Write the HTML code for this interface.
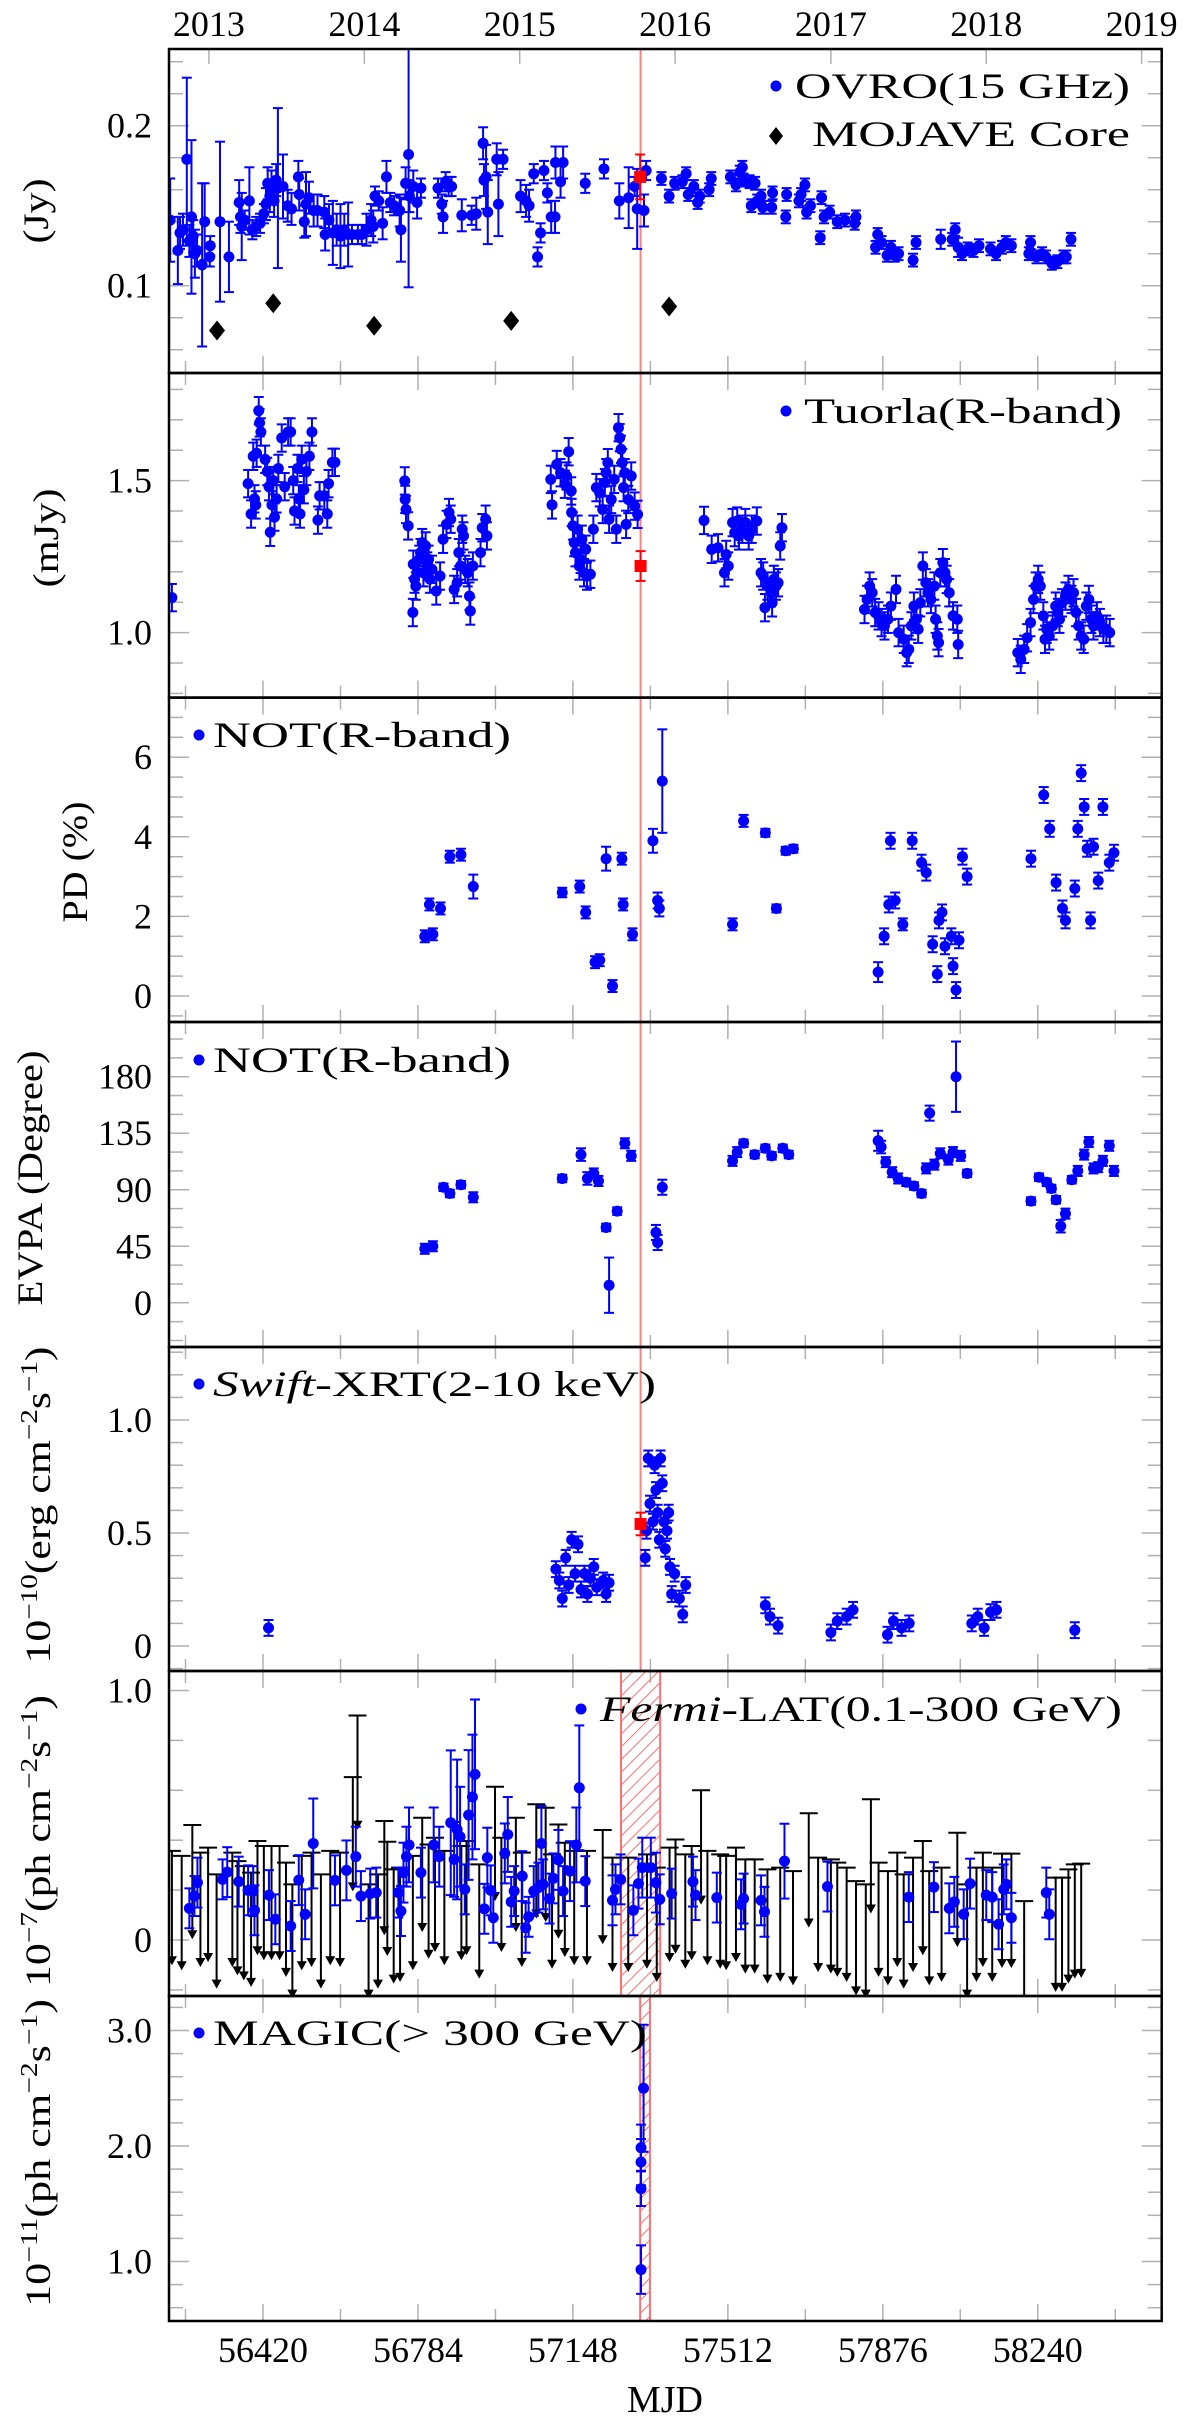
<!DOCTYPE html>
<html><head><meta charset="utf-8"><title>Multiwavelength light curve</title>
<style>
html,body{margin:0;padding:0;background:#fff;}
svg{display:block;font-family:"Liberation Serif",serif;}
</style></head>
<body>
<svg id="chart" xmlns="http://www.w3.org/2000/svg" width="1200" height="2421" viewBox="0 0 1200 2421">
<defs>
<pattern id="hatch" patternUnits="userSpaceOnUse" width="9" height="9" patternTransform="rotate(45)">
<line x1="0" y1="0" x2="0" y2="9" stroke="#ff7070" stroke-width="2"/>
</pattern>
<clipPath id="c1"><rect x="169" y="49" width="993" height="324"/></clipPath>
<clipPath id="c2"><rect x="169" y="373" width="993" height="325"/></clipPath>
<clipPath id="c3"><rect x="169" y="698" width="993" height="324"/></clipPath>
<clipPath id="c4"><rect x="169" y="1022" width="993" height="325"/></clipPath>
<clipPath id="c5"><rect x="169" y="1347" width="993" height="324"/></clipPath>
<clipPath id="c6"><rect x="169" y="1671" width="993" height="325"/></clipPath>
<clipPath id="c7"><rect x="169" y="1996" width="993" height="325"/></clipPath>
</defs>
</svg>
<script>
// ---------- DATA ----------
const xMajorTicks = [56420, 56784, 57148, 57512, 57876, 58240];
const xMinorTicks = [56238, 56602, 56966, 57330, 57694, 58058, 58422];
const yearLabels = ["2013","2014","2015","2016","2017","2018","2019"];
const yearMjd = [56293, 56658, 57023, 57388, 57754, 58119, 58484];
const flareMjd = 57307;
const fermiBand = [57261, 57353];
const magicBand = [57306, 57329];

const ovroData = [[56202,0.141,0.026],[56220,0.122,0.021],[56225,0.133,0.01],[56232,0.135,0.01],[56241,0.179,0.051],[56247,0.128,0.01],[56252,0.143,0.048],[56256,0.131,0.01],[56260,0.120,0.015],[56265,0.122,0.01],[56277,0.113,0.051],[56283,0.140,0.024],[56295,0.118,0.006],[56296,0.125,0.006],[56319,0.140,0.050],[56340,0.118,0.022],[56364,0.152,0.014],[56367,0.143,0.01],[56370,0.137,0.021],[56377,0.141,0.006],[56388,0.153,0.021],[56395,0.135,0.006],[56404,0.137,0.006],[56413,0.139,0.006],[56422,0.145,0.006],[56427,0.151,0.01],[56431,0.164,0.01],[56436,0.156,0.01],[56440,0.162,0.01],[56446,0.153,0.01],[56451,0.166,0.01],[56455,0.161,0.05],[56467,0.162,0.02],[56478,0.150,0.01],[56487,0.148,0.01],[56503,0.168,0.01],[56505,0.157,0.01],[56517,0.140,0.01],[56521,0.151,0.02],[56528,0.155,0.01],[56539,0.147,0.01],[56548,0.147,0.01],[56564,0.146,0.01],[56566,0.132,0.01],[56575,0.141,0.01],[56584,0.133,0.02],[56593,0.135,0.01],[56602,0.131,0.02],[56611,0.135,0.01],[56620,0.132,0.02],[56629,0.132,0.006],[56643,0.132,0.006],[56652,0.132,0.006],[56663,0.135,0.01],[56674,0.141,0.01],[56679,0.137,0.01],[56683,0.156,0.006],[56692,0.153,0.006],[56701,0.139,0.01],[56710,0.168,0.01],[56719,0.152,0.006],[56728,0.150,0.006],[56741,0.147,0.01],[56744,0.135,0.02],[56755,0.164,0.01],[56762,0.182,0.083],[56764,0.156,0.01],[56773,0.162,0.01],[56782,0.152,0.01],[56791,0.161,0.006],[56831,0.161,0.006],[56840,0.151,0.006],[56843,0.143,0.01],[56849,0.165,0.006],[56856,0.162,0.006],[56863,0.162,0.006],[56887,0.144,0.01],[56910,0.144,0.006],[56921,0.145,0.01],[56937,0.189,0.01],[56939,0.166,0.01],[56944,0.168,0.02],[56948,0.146,0.02],[56969,0.179,0.01],[56973,0.151,0.02],[56984,0.179,0.006],[57025,0.156,0.01],[57038,0.153,0.01],[57045,0.150,0.01],[57056,0.170,0.006],[57065,0.118,0.006],[57072,0.133,0.006],[57080,0.172,0.006],[57088,0.158,0.006],[57097,0.143,0.01],[57106,0.143,0.01],[57107,0.177,0.01],[57119,0.165,0.01],[57125,0.177,0.01],[57177,0.164,0.006],[57221,0.173,0.006],[57257,0.153,0.011],[57279,0.155,0.019],[57293,0.162,0.006],[57299,0.148,0.025],[57315,0.147,0.01],[57320,0.172,0.006],[57356,0.167,0.004],[57374,0.156,0.004],[57387,0.164,0.004],[57405,0.165,0.004],[57414,0.170,0.004],[57419,0.157,0.004],[57432,0.162,0.004],[57441,0.152,0.004],[57446,0.156,0.004],[57468,0.160,0.004],[57473,0.167,0.004],[57518,0.168,0.004],[57531,0.163,0.004],[57540,0.171,0.004],[57546,0.174,0.004],[57549,0.166,0.004],[57563,0.165,0.004],[57567,0.150,0.004],[57576,0.164,0.004],[57581,0.153,0.004],[57590,0.156,0.004],[57594,0.149,0.004],[57615,0.149,0.004],[57617,0.158,0.004],[57648,0.143,0.004],[57650,0.157,0.004],[57679,0.153,0.004],[57684,0.157,0.004],[57693,0.163,0.004],[57697,0.146,0.004],[57706,0.150,0.004],[57729,0.130,0.004],[57732,0.155,0.004],[57738,0.143,0.004],[57751,0.146,0.004],[57769,0.140,0.004],[57787,0.141,0.004],[57810,0.139,0.004],[57813,0.143,0.004],[57859,0.124,0.004],[57864,0.132,0.004],[57873,0.127,0.004],[57886,0.119,0.004],[57895,0.124,0.004],[57904,0.119,0.004],[57913,0.120,0.004],[57947,0.116,0.004],[57954,0.127,0.004],[58012,0.129,0.006],[58039,0.129,0.004],[58046,0.135,0.004],[58053,0.124,0.006],[58062,0.120,0.004],[58075,0.123,0.004],[58089,0.122,0.004],[58102,0.125,0.004],[58129,0.123,0.004],[58142,0.120,0.004],[58156,0.124,0.004],[58165,0.127,0.004],[58178,0.125,0.004],[58219,0.120,0.004],[58223,0.127,0.004],[58237,0.118,0.004],[58250,0.120,0.004],[58259,0.118,0.004],[58273,0.114,0.004],[58286,0.115,0.004],[58300,0.118,0.004],[58307,0.118,0.004],[58318,0.129,0.004]];
const ovroFlare = [[57306,0.168,0.014]];
const mojaveData = [[56312,0.072],[56444,0.089],[56681,0.075],[57003,0.078],[57374,0.087]];

const tuorlaData = [[56206,1.115],
[56385,1.49],[56392,1.39],[56397,1.58],[56400,1.44],[56403,1.42],[56405,1.59],[56410,1.73],[56412,1.69],[56415,1.66],[56425,1.57],[56430,1.53],[56434,1.48],[56437,1.33],[56441,1.42],[56444,1.50],[56447,1.38],[56452,1.44],[56456,1.54],[56464,1.64],[56471,1.48],[56479,1.66],[56485,1.66],[56491,1.50],[56494,1.40],[56501,1.54],[56504,1.44],[56507,1.39],[56511,1.57],[56516,1.47],[56522,1.53],[56529,1.58],[56535,1.66],[56549,1.37],[56553,1.45],[56564,1.45],[56571,1.39],[56574,1.49],[56583,1.56],[56589,1.56],
[56753,1.499],[56754,1.438],[56756,1.405],[56761,1.351],[56772,1.066],[56773,1.225],[56776,1.176],[56779,1.153],[56782,1.197],[56787,1.241],[56790,1.263],[56794,1.296],[56797,1.197],[56802,1.285],[56806,1.219],[56809,1.241],[56812,1.176],[56817,1.208],[56827,1.137],[56836,1.186],[56843,1.307],[56851,1.356],[56857,1.395],[56861,1.373],[56869,1.142],[56876,1.164],[56880,1.263],[56884,1.219],[56888,1.340],[56891,1.318],[56895,1.208],[56901,1.197],[56905,1.120],[56907,1.071],[56913,1.219],[56931,1.263],[56935,1.345],[56943,1.373],[56946,1.318],
[57096,1.504],[57099,1.420],[57110,1.553],[57119,1.526],[57129,1.488],[57133,1.515],[57138,1.595],[57144,1.466],[57145,1.395],[57148,1.351],[57151,1.296],[57154,1.263],[57159,1.340],[57163,1.219],[57166,1.241],[57169,1.307],[57174,1.197],[57178,1.274],[57181,1.186],[57189,1.192],[57196,1.340],[57203,1.477],[57211,1.460],[57218,1.405],[57223,1.493],[57226,1.526],[57230,1.559],[57233,1.373],[57238,1.438],[57245,1.504],[57250,1.340],[57255,1.674],[57258,1.641],[57261,1.603],[57264,1.559],[57267,1.477],[57270,1.526],[57273,1.356],[57278,1.438],[57285,1.515],[57293,1.416],[57300,1.389],
[57456,1.369],[57474,1.274],[57489,1.279],[57504,1.197],[57508,1.257],[57513,1.219],[57523,1.362],[57528,1.329],[57534,1.367],[57538,1.318],[57546,1.340],[57553,1.362],[57561,1.318],[57568,1.340],[57580,1.367],[57590,1.197],[57595,1.186],[57599,1.082],[57605,1.153],[57613,1.131],[57616,1.098],[57620,1.175],[57625,1.153],[57630,1.164],[57635,1.285],[57639,1.345],
[57833,1.076],[57839,1.109],[57845,1.153],[57851,1.131],[57858,1.066],[57866,1.055],[57873,1.033],[57880,1.022],[57888,1.044],[57895,1.087],[57907,1.142],[57913,1.000],[57925,0.978],[57932,0.934],[57937,0.945],[57943,1.022],[57949,1.087],[57955,1.044],[57959,1.011],[57964,1.098],[57970,1.219],[57977,1.164],[57982,1.131],[57989,1.109],[57997,1.153],[58000,1.044],[58004,0.989],[58007,0.967],[58011,1.197],[58017,1.230],[58022,1.197],[58026,1.175],[58032,1.131],[58041,1.055],[58051,1.044],[58053,0.961],
[58193,0.934],[58200,0.912],[58208,0.945],[58215,0.983],[58223,1.033],[58230,1.109],[58235,1.153],[58241,1.175],[58246,1.153],[58253,1.055],[58257,0.978],[58261,1.011],[58267,0.989],[58275,1.022],[58282,1.087],[58287,1.066],[58291,1.044],[58297,1.098],[58305,1.120],[58312,1.142],[58319,1.109],[58324,1.131],[58330,1.066],[58336,1.022],[58342,0.989],[58348,0.978],[58354,1.087],[58360,1.109],[58366,1.044],[58371,1.022],[58379,1.055],[58386,1.033],[58394,1.011],[58401,1.011],[58409,1.000]];
const tuorlaErr = 0.045;
const tuorlaFlare = [[57307,1.219,0.049]];

const pdData = [[56800,1.5],[56819,1.55],[56811,2.3],[56837,2.2],[56859,3.5],[56885,3.55],[56914,2.75],
[57123,2.6],[57164,2.75],[57178,2.1],[57200,0.85],[57211,0.9],[57226,3.45],[57241,0.25],[57263,3.45],[57266,2.3],[57288,1.55],[57336,3.9],[57347,2.4],[57351,2.2],[57358,5.4],
[57523,1.8],[57549,4.4],[57600,4.1],[57626,2.2],[57648,3.65],[57666,3.7],
[57865,0.6],[57879,1.5],[57890,2.3],[57894,3.9],[57905,2.4],[57923,1.8],[57945,3.9],[57967,3.35],[57978,3.1],[57993,1.3],[58004,0.55],[58008,1.9],[58015,2.1],[58022,1.25],[58037,1.5],[58041,0.75],[58048,0.15],[58055,1.4],[58063,3.5],[58074,3.0],
[58224,3.45],[58254,5.05],[58268,4.2],[58283,2.85],[58298,2.2],[58305,1.9],[58327,2.7],[58334,4.2],[58342,5.6],[58349,4.75],[58356,3.7],[58364,1.9],[58371,3.75],[58382,2.9],[58393,4.75],[58408,3.35],[58419,3.6]];
const pdErr = [0.15,0.15,0.15,0.15,0.15,0.15,0.3, 0.12,0.15,0.15,0.15,0.15,0.3,0.15,0.15,0.15,0.15,0.3,0.2,0.2,1.3, 0.15,0.15,0.1,0.1,0.1,0.1, 0.25,0.2,0.2,0.2,0.2,0.15,0.2,0.2,0.2,0.2,0.2,0.2,0.2,0.2,0.2,0.2,0.2,0.2,0.2,0.2, 0.2,0.2,0.2,0.2,0.2,0.2,0.2,0.2,0.2,0.2,0.2,0.2,0.2,0.2,0.2,0.2,0.2];

const evpaData = [[56800,43],[56819,45],[56844,92],[56859,87],[56885,94],[56914,84],
[57123,99],[57167,118],[57182,99],[57197,103],[57208,97],[57226,60],[57233,14],[57252,73],[57270,127],[57285,117],[57343,56],[57347,48],[57358,92],
[57523,113],[57534,120],[57549,127],[57575,118],[57600,123],[57615,117],[57641,123],[57655,118],
[57865,129],[57872,124],[57883,112],[57898,104],[57912,99],[57931,96],[57949,93],[57967,87],[57978,107],[57986,151],[57997,110],[58011,119],[58030,114],[58041,120],[58048,180],[58059,117],[58074,103],
[58224,81],[58243,100],[58261,96],[58272,91],[58283,82],[58294,61],[58305,71],[58320,98],[58334,105],[58349,118],[58360,128],[58371,107],[58382,108],[58393,113],[58408,125],[58419,105]];
const evpaErr = [4,4,3,3,3,4, 3,5,5,4,4,3,22,3,4,4,6,6,6, 4,4,3,3,3,3,3,3, 8,5,4,4,4,3,3,3,4,6,4,4,4,4,28,4,3, 3,3,3,3,3,5,4,3,4,4,4,4,4,4,4,4];

const swiftData = [[56433,0.08],
[57108,0.34],[57116,0.29],[57123,0.21],[57131,0.39],[57138,0.27],[57145,0.47],[57153,0.32],[57160,0.45],[57167,0.25],[57175,0.32],[57182,0.23],[57189,0.30],[57197,0.35],[57204,0.26],[57219,0.29],[57226,0.23],[57233,0.28],
[57318,0.39],[57321,0.51],[57325,0.83],[57329,0.63],[57336,0.55],[57340,0.80],[57343,0.69],[57347,0.59],[57351,0.47],[57354,0.83],[57358,0.72],[57362,0.55],[57365,0.43],[57369,0.51],[57373,0.59],[57376,0.35],[57380,0.23],[57387,0.32],[57398,0.21],[57406,0.14],[57413,0.27],
[57600,0.18],[57611,0.13],[57630,0.09],[57754,0.06],[57769,0.11],[57791,0.13],[57806,0.16],[57887,0.05],[57901,0.11],[57920,0.08],[57938,0.10],[58085,0.10],[58099,0.13],[58114,0.08],[58129,0.15],[58143,0.16],[58327,0.07]];
const swiftErr = 0.035;
const swiftFlare = [[57307,0.54,0.05]];

const fermiData = [[56247,0.127],[56259,0.176],[56266,0.230],[56325,0.243],[56336,0.272],[56363,0.234],[56385,0.199],[56397,0.196],[56400,0.119],[56434,0.180],[56449,0.083],[56485,0.056],[56504,0.240],[56519,0.103],[56538,0.387],[56589,0.239],[56616,0.279],[56638,0.334],[56650,0.176],[56672,0.186],[56686,0.190],[56738,0.190],[56744,0.116],[56750,0.270],[56757,0.334],[56763,0.381],[56791,0.270],[56821,0.381],[56834,0.334],[56861,0.470],[56869,0.323],[56876,0.443],[56883,0.414],[56894,0.203],[56903,0.501],[56912,0.573],[56918,0.664],[56940,0.125],[56947,0.330],[56955,0.199],[56961,0.089],[56988,0.347],[56995,0.423],[57003,0.153],[57010,0.196],[57029,0.256],[57037,0.049],[57044,0.093],[57056,0.196],[57067,0.210],[57074,0.387],[57078,0.223],[57093,0.166],[57102,0.247],[57114,0.321],[57125,0.196],[57141,0.276],[57156,0.381],[57163,0.610],[57177,0.236],[57241,0.159],[57248,0.203],[57260,0.243],[57290,0.119],[57302,0.226],[57311,0.290],[57331,0.290],[57343,0.230],[57352,0.163],[57380,0.186],[57430,0.234],[57436,0.180],[57486,0.170],[57543,0.143],[57549,0.166],[57590,0.159],[57598,0.113],[57645,0.316],[57746,0.214],[57937,0.172],[57996,0.212],[58032,0.127],[58044,0.153],[58066,0.103],[58081,0.226],[58119,0.180],[58133,0.172],[58148,0.063],[58160,0.203],[58166,0.223],[58178,0.089],[58260,0.190],[58267,0.103]];
const fermiErr = [0.08,0.08,0.1,0.08,0.1,0.1,0.1,0.1,0.1,0.1,0.1,0.1,0.1,0.1,0.18,0.1,0.12,0.12,0.1,0.1,0.1,0.1,0.1,0.12,0.12,0.15,0.1,0.15,0.12,0.29,0.15,0.28,0.2,0.1,0.26,0.25,0.3,0.1,0.12,0.1,0.1,0.12,0.15,0.1,0.1,0.1,0.1,0.08,0.1,0.1,0.15,0.1,0.1,0.1,0.12,0.1,0.12,0.15,0.25,0.1,0.1,0.1,0.1,0.1,0.1,0.12,0.12,0.12,0.1,0.1,0.1,0.1,0.1,0.1,0.1,0.1,0.1,0.15,0.1,0.1,0.1,0.1,0.1,0.1,0.1,0.1,0.1,0.1,0.1,0.1,0.1,0.1,0.1];
const fermiUL = [[56206,0.357],[56229,0.337],[56254,0.461],[56273,0.350],[56291,0.370],[56311,0.263],[56348,0.350],[56360,0.316],[56375,0.296],[56392,0.270],[56407,0.397],[56422,0.377],[56440,0.377],[56459,0.377],[56474,0.310],[56489,0.223],[56511,0.337],[56534,0.350],[56556,0.263],[56578,0.357],[56601,0.350],[56631,0.653],[56642,0.900],[56668,0.223],[56690,0.263],[56705,0.477],[56712,0.394],[56727,0.283],[56742,0.290],[56772,0.337],[56794,0.490],[56809,0.383],[56824,0.410],[56846,0.357],[56886,0.377],[56898,0.397],[56928,0.303],[56965,0.614],[56980,0.410],[57014,0.490],[57028,0.350],[57062,0.544],[57084,0.530],[57099,0.343],[57114,0.463],[57129,0.390],[57151,0.357],[57181,0.357],[57218,0.441],[57241,0.330],[57278,0.330],[57322,0.343],[57345,0.290],[57375,0.370],[57389,0.403],[57412,0.343],[57427,0.377],[57449,0.600],[57464,0.357],[57494,0.343],[57508,0.337],[57531,0.370],[57553,0.323],[57575,0.323],[57605,0.283],[57635,0.290],[57665,0.276],[57702,0.508],[57724,0.330],[57754,0.323],[57769,0.310],[57791,0.290],[57813,0.236],[57836,0.223],[57848,0.564],[57866,0.310],[57888,0.276],[57910,0.350],[57925,0.263],[57947,0.330],[57970,0.397],[57985,0.276],[58014,0.290],[58051,0.430],[58074,0.223],[58096,0.290],[58111,0.350],[58133,0.290],[58156,0.346],[58178,0.346],[58208,0.156],[58282,0.250],[58297,0.250],[58312,0.283],[58327,0.303],[58342,0.306]];
const fermiULlen = 0.45;

const magicData = [[57308,0.93,0.21],[57308,1.63,0.15],[57308,1.86,0.2],[57308,1.985,0.2],[57314,2.5,0.55]];

// ---------- SCALES ----------
const X0 = 169, X1 = 1161.7;
function xs(m){ return 263 + (m - 56420) * 0.4257; }
function mk(v0, y0, k){ return v => y0 - (v - v0) * k; }
const y1 = mk(0.1, 285.7, 1600);
const y2 = mk(1.0, 632.6, 304);
const y3 = mk(0, 996, 39.8);
const y4 = mk(0, 1302.8, 1.256);
const y5 = mk(0, 1646, 226);
const y6 = mk(0, 1940, 249.5);
const y7 = mk(1.0, 2261.5, 115.5);

const NS = "http://www.w3.org/2000/svg";
const svg = document.getElementById("chart");
function el(tag, attrs, parent){
  const e = document.createElementNS(NS, tag);
  for (const k in attrs) e.setAttribute(k, attrs[k]);
  (parent || svg).appendChild(e);
  return e;
}
function grp(name, clip){
  const g = el("g", clip ? {"clip-path": "url(#" + clip + ")"} : {});
  
  
  return g;
}
function errPoint(g, px, py, ytop, ybot, color, name){
  const gg = el("g", {}, g);
  
  
  el("line", {x1:px, y1:ytop, x2:px, y2:ybot, stroke:color, "stroke-width":2}, gg);
  el("line", {x1:px-5, y1:ytop, x2:px+5, y2:ytop, stroke:color, "stroke-width":2}, gg);
  el("line", {x1:px-5, y1:ybot, x2:px+5, y2:ybot, stroke:color, "stroke-width":2}, gg);
  el("circle", {cx:px, cy:py, r:5.5, fill:color}, gg);
}
function redSquare(g, px, py, ytop, ybot){
  const gg = el("g", {}, g);
  
  
  el("line", {x1:px, y1:ytop, x2:px, y2:ybot, stroke:"#f00", "stroke-width":2}, gg);
  el("line", {x1:px-5, y1:ytop, x2:px+5, y2:ytop, stroke:"#f00", "stroke-width":2}, gg);
  el("line", {x1:px-5, y1:ybot, x2:px+5, y2:ybot, stroke:"#f00", "stroke-width":2}, gg);
  el("rect", {x:px-6, y:py-6, width:12, height:12, fill:"#f00"}, gg);
}

// ---------- PANELS ----------
const panels = [
 {top:49, bot:373, ys:y1, major:[0.1,0.2], minor:[0.06,0.08,0.12,0.14,0.16,0.18,0.22,0.24], fmt:v=>v.toFixed(1)},
 {top:373, bot:697.6, ys:y2, major:[1.0,1.5], minor:[0.8,0.9,1.1,1.2,1.3,1.4,1.6,1.7,1.8], fmt:v=>v.toFixed(1)},
 {top:697.6, bot:1022, ys:y3, major:[0,2,4,6], minor:[-0.5,0.5,1,1.5,2.5,3,3.5,4.5,5,5.5,6.5,7,7.5], fmt:v=>String(v)},
 {top:1022, bot:1347, ys:y4, major:[0,45,90,135,180], minor:[-30,-15,15,30,60,75,105,120,150,165,195,210], fmt:v=>String(v)},
 {top:1347, bot:1671, ys:y5, major:[0,0.5,1.0], minor:[-0.1,0.1,0.2,0.3,0.4,0.6,0.7,0.8,0.9,1.1,1.2,1.3], fmt:v=>v===0?"0":v.toFixed(1)},
 {top:1671, bot:1996, ys:y6, major:[0,1.0], minor:[-0.2,0.2,0.4,0.6,0.8], fmt:v=>v===0?"0":v.toFixed(1)},
 {top:1996, bot:2321, ys:y7, major:[1.0,2.0,3.0], minor:[0.6,0.8,1.2,1.4,1.6,1.8,2.2,2.4,2.6,2.8,3.2], fmt:v=>v.toFixed(1)}
];

panels.forEach((p, i) => {
  const g = grp("panel-" + (i+1) + "-axes");
  p.major.concat(p.minor).forEach(v => {
    const yy = p.ys(v);
    if (yy <= p.top + 2 || yy >= p.bot - 2) return;
    const len = p.major.includes(v) ? 20 : 14;
    el("line", {x1:X0, y1:yy, x2:X0+len, y2:yy, stroke:"#b0b0b0", "stroke-width":1.5}, g);
    el("line", {x1:X1, y1:yy, x2:X1-len, y2:yy, stroke:"#b0b0b0", "stroke-width":1.5}, g);
  });
  p.major.forEach(v => {
    const t = el("text", {x:152, y:p.ys(v)+12, "text-anchor":"end", "font-size":36, fill:"#000"}, g);
    
    
    t.textContent = p.fmt(v);
  });
  xMajorTicks.forEach(m => {
    el("line", {x1:xs(m), y1:p.bot, x2:xs(m), y2:p.bot-17, stroke:"#b0b0b0", "stroke-width":1.5}, g);
    if (i > 0) el("line", {x1:xs(m), y1:p.top, x2:xs(m), y2:p.top+17, stroke:"#b0b0b0", "stroke-width":1.5}, g);
  });
  xMinorTicks.forEach(m => {
    el("line", {x1:xs(m), y1:p.bot, x2:xs(m), y2:p.bot-12, stroke:"#b0b0b0", "stroke-width":1.5}, g);
    if (i > 0) el("line", {x1:xs(m), y1:p.top, x2:xs(m), y2:p.top+12, stroke:"#b0b0b0", "stroke-width":1.5}, g);
  });
});

const yg = grp("year-axis");
yearMjd.forEach((m, i) => {
  if (xs(m) < X1) el("line", {x1:xs(m), y1:49, x2:xs(m), y2:64, stroke:"#b0b0b0", "stroke-width":1.5}, yg);
  const t = el("text", {x:xs(m), y:36, "text-anchor":"middle", "font-size":36}, yg);
  
  
  t.textContent = yearLabels[i];
});
const xg = grp("x-axis");
xMajorTicks.forEach(m => {
  const t = el("text", {x:xs(m), y:2362, "text-anchor":"middle", "font-size":36}, xg);
  
  
  t.textContent = String(m);
});
const xt = el("text", {x:665, y:2412, "text-anchor":"middle", "font-size":38}, xg);


xt.textContent = "MJD";

const fl = el("line", {x1:xs(flareMjd), y1:49, x2:xs(flareMjd), y2:1671, stroke:"#ff7f7f", "stroke-width":2});


const b6 = el("rect", {x:xs(fermiBand[0]), y:1671, width:xs(fermiBand[1])-xs(fermiBand[0]), height:325, fill:"url(#hatch)", stroke:"#ff7070", "stroke-width":2});


const b7 = el("rect", {x:xs(magicBand[0]), y:1996, width:xs(magicBand[1])-xs(magicBand[0]), height:325, fill:"url(#hatch)", stroke:"#ff7070", "stroke-width":2});



// ---------- SERIES ----------
const BLUE = "#0000ff";
let g = grp("ovro-series", "c1");
ovroData.forEach(d => errPoint(g, xs(d[0]), y1(d[1]), y1(d[1]+d[2]), y1(d[1]-d[2]), BLUE, "ovro-point"));
ovroFlare.forEach(d => redSquare(g, xs(d[0]), y1(d[1]), y1(d[1]+d[2]), y1(d[1]-d[2])));
g = grp("mojave-series", "c1");
mojaveData.forEach(d => {
  const px = xs(d[0]), py = y1(d[1]);
  const p = el("polygon", {points:`${px},${py-10} ${px+8},${py} ${px},${py+10} ${px-8},${py}`, fill:"#000"}, g);
  
  
});

g = grp("tuorla-series", "c2");
tuorlaData.forEach(d => errPoint(g, xs(d[0]), y2(d[1]), y2(d[1]+tuorlaErr), y2(d[1]-tuorlaErr), BLUE, "tuorla-point"));
tuorlaFlare.forEach(d => redSquare(g, xs(d[0]), y2(d[1]), y2(d[1]+d[2]), y2(d[1]-d[2])));

g = grp("pd-series", "c3");
pdData.forEach((d, i) => errPoint(g, xs(d[0]), y3(d[1]), y3(d[1]+pdErr[i]), y3(d[1]-pdErr[i]), BLUE, "pd-point"));

g = grp("evpa-series", "c4");
evpaData.forEach((d, i) => errPoint(g, xs(d[0]), y4(d[1]), y4(d[1]+evpaErr[i]), y4(d[1]-evpaErr[i]), BLUE, "evpa-point"));

g = grp("swift-series", "c5");
swiftData.forEach(d => errPoint(g, xs(d[0]), y5(d[1]), y5(d[1]+swiftErr), y5(d[1]-swiftErr), BLUE, "swift-point"));
swiftFlare.forEach(d => redSquare(g, xs(d[0]), y5(d[1]), y5(d[1]+d[2]), y5(d[1]-d[2])));

g = grp("fermi-upper-limits", "c6");
fermiUL.forEach(d => {
  const px = xs(d[0]), pt = y6(d[1]), pb = y6(d[1]-fermiULlen);
  const gg = el("g", {}, g);
  
  
  el("line", {x1:px-9, y1:pt, x2:px+9, y2:pt, stroke:"#000", "stroke-width":2}, gg);
  el("line", {x1:px, y1:pt, x2:px, y2:pb, stroke:"#000", "stroke-width":2}, gg);
  el("polygon", {points:`${px-5},${pb-7} ${px+5},${pb-7} ${px},${pb+2}`, fill:"#000"}, gg);
});
g = grp("fermi-series", "c6");
fermiData.forEach((d, i) => errPoint(g, xs(d[0]), y6(d[1]), y6(d[1]+fermiErr[i]), y6(d[1]-fermiErr[i]), BLUE, "fermi-point"));

g = grp("magic-series", "c7");
magicData.forEach(d => errPoint(g, xs(d[0]), y7(d[1]), y7(d[1]+d[2]), y7(d[1]-d[2]), BLUE, "magic-point"));

[49,373,697.6,1022,1347,1671,1996].forEach((t, i) => {
  const b = [373,697.6,1022,1347,1671,1996,2321][i];
  const r = el("rect", {x:X0, y:t, width:X1-X0, height:b-t, fill:"none", stroke:"#000", "stroke-width":2.5});
  
  
});

// ---------- LEGENDS ----------
function legend(name, dx, dy, tx, ty, len, html, marker){
  const lg = grp(name);
  if (marker === "diamond") el("polygon", {points:`${dx},${dy-9} ${dx+7},${dy} ${dx},${dy+9} ${dx-7},${dy}`, fill:"#000"}, lg);
  else el("circle", {cx:dx, cy:dy, r:5.5, fill:BLUE}, lg);
  const t = el("text", {x:tx, y:ty, "font-size":36, textLength:len, lengthAdjust:"spacingAndGlyphs"}, lg);
  t.innerHTML = html;
}
legend("legend-ovro", 776, 86, 795, 98, 335, "OVRO(15 GHz)");
legend("legend-mojave", 776, 136, 812, 146, 318, "MOJAVE Core", "diamond");
legend("legend-tuorla", 786, 411, 804, 423, 318, "Tuorla(R-band)");
legend("legend-pd", 199, 735, 213, 747, 298, "NOT(R-band)");
legend("legend-evpa", 199, 1060, 213, 1072, 298, "NOT(R-band)");
legend("legend-swift", 199, 1384, 213, 1396, 443, "<tspan font-style=\"italic\">Swift</tspan>-XRT(2-10 keV)");
legend("legend-fermi", 581, 1709, 600, 1721, 522, "<tspan font-style=\"italic\">Fermi</tspan>-LAT(0.1-300 GeV)");
legend("legend-magic", 199, 2033, 213, 2045, 434, "MAGIC(&gt; 300 GeV)");

// ---------- Y TITLES ----------
function ytitle(name, cx, cy, len, html){
  const t = el("text", {transform:`translate(${cx},${cy}) rotate(-90)`, "text-anchor":"middle", "font-size":36, textLength:len, lengthAdjust:"spacingAndGlyphs"});
  
  
  t.innerHTML = html;
}
ytitle("y-title-radio", 48, 211, 65, "(Jy)");
ytitle("y-title-optical", 58, 538, 99, "(mJy)");
ytitle("y-title-pd", 87, 862, 121, "PD (%)");
ytitle("y-title-evpa", 42, 1178, 255, "EVPA (Degree)");
ytitle("y-title-xray", 50, 1505, 317, "10<tspan baseline-shift=\"super\" font-size=\"24\">−10</tspan>(erg cm<tspan baseline-shift=\"super\" font-size=\"24\">−2</tspan>s<tspan baseline-shift=\"super\" font-size=\"24\">−1</tspan>)");
ytitle("y-title-gamma", 50, 1841, 292, "10<tspan baseline-shift=\"super\" font-size=\"24\">−7</tspan>(ph cm<tspan baseline-shift=\"super\" font-size=\"24\">−2</tspan>s<tspan baseline-shift=\"super\" font-size=\"24\">−1</tspan>)");
ytitle("y-title-vhe", 50, 2153, 308, "10<tspan baseline-shift=\"super\" font-size=\"24\">−11</tspan>(ph cm<tspan baseline-shift=\"super\" font-size=\"24\">−2</tspan>s<tspan baseline-shift=\"super\" font-size=\"24\">−1</tspan>)");
</script>
</body></html>
